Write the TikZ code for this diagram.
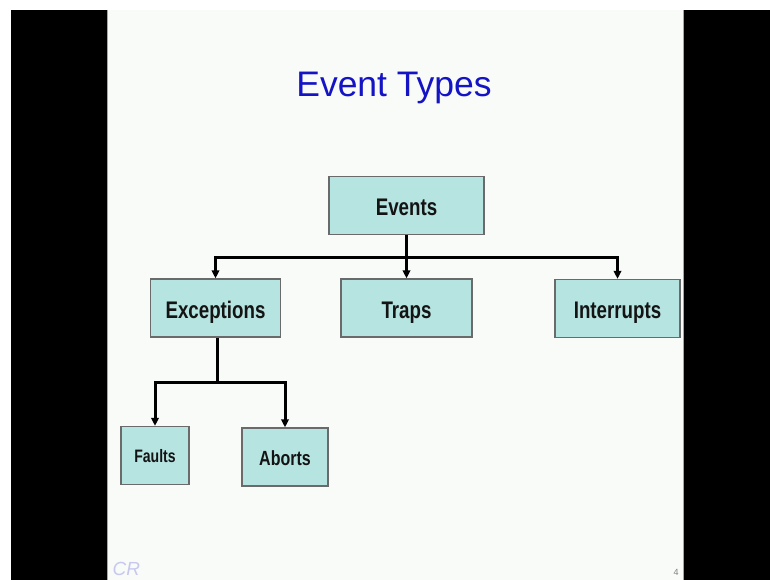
\documentclass[tikz,border=0pt]{standalone}
\usepackage{fontspec}
\setmainfont{Liberation Sans}
\newfontfamily\boxfont[FakeStretch=0.78]{Liberation Sans}
\usetikzlibrary{arrows.meta}
\definecolor{slidebg}{HTML}{F9FBF9}
\definecolor{titleblue}{HTML}{1414C4}
\definecolor{boxfill}{HTML}{B6E4E1}
\definecolor{boxedge}{HTML}{6A6A6A}
\definecolor{logoblue}{HTML}{C8C8EE}
\tikzset{
  box/.style={draw=boxedge, line width=1.3pt, fill=boxfill, inner sep=0pt,
              minimum height=58pt, text height=20pt, text depth=0pt,
              text=black!92, font=\boxfont\bfseries\fontsize{24}{24}\selectfont},
  conn/.style={line width=3pt, line join=miter},
  tip/.style={conn, -{Triangle[length=8pt,width=7.5pt]}}
}
\begin{document}
\begin{tikzpicture}[x=1pt,y=-1pt]
  % canvas, slide area and dark side panels
  \path[fill=white] (0,0) rectangle (770,580);
  \useasboundingbox (0,0) rectangle (770,580);
  \fill[slidebg] (107,10) rectangle (684,580);
  \fill[black] (11,10) rectangle (107,580);
  \fill[black] (684,10) rectangle (770,580);
  \draw[gray!70, line width=0.8pt] (107.5,10) -- (107.5,580);
  \draw[gray!70, line width=0.8pt] (683.5,10) -- (683.5,580);

  % title
  \node[text=titleblue, font=\fontsize{35.5}{36}\selectfont, anchor=base] (title) at (394,97) {Event Types};

  % hierarchy boxes
  \node[box, minimum width=155pt] (events) at (406.5,205.5) {Events};
  \node[box, minimum width=130pt] (exceptions) at (215.5,308) {Exceptions};
  \node[box, minimum width=131pt] (traps) at (406.5,308) {Traps};
  \node[box, minimum width=125pt] (interrupts) at (617.5,308.5) {Interrupts};
  \node[box, minimum width=68pt, text height=14pt,
        font=\boxfont\bfseries\fontsize{18}{18}\selectfont] (faults) at (155,455.5) {Faults};
  \node[box, minimum width=86pt, text height=16pt,
        font=\boxfont\bfseries\fontsize{20.5}{20.5}\selectfont] (aborts) at (285,457) {Aborts};

  % branch points
  \coordinate (j1) at (406.5,257);
  \coordinate (j2) at (217,382);

  % connectors from Events
  \draw[conn] (events.south) -- (j1);
  \draw[tip] (j1) -| (exceptions.north);
  \draw[tip] (j1) -- (traps.north);
  \draw[tip] (j1) -| (interrupts.north);

  % connectors from Exceptions
  \draw[conn] (exceptions.south -| j2) -- (j2);
  \draw[tip] (j2) -| (faults.north);
  \draw[tip] (j2) -| (aborts.north);

  % footer: logo mark and slide number
  \node[text=logoblue, font=\itshape\fontsize{19}{19}\selectfont, anchor=base west] (logo) at (109,575) {CR};
  \node[text=gray, font=\fontsize{9}{9}\selectfont] (pagenum) at (676,572) {4};
\end{tikzpicture}
\end{document}
